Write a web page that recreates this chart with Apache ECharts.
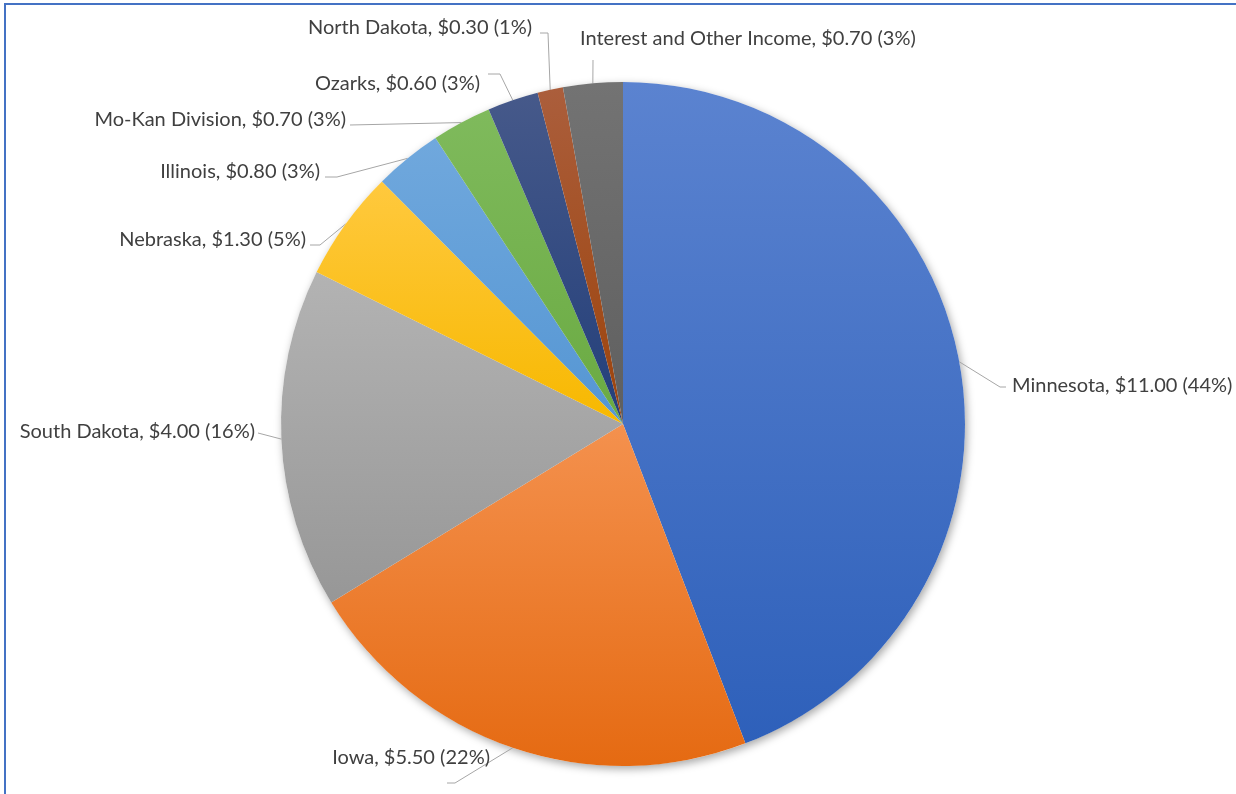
<!DOCTYPE html>
<html>
<head>
<meta charset="utf-8">
<script src="https://cdn.jsdelivr.net/npm/echarts@6/dist/echarts.min.js"></script>
<style>
html,body{margin:0;padding:0;background:#fff;}
#wrap{position:absolute;left:0;top:0;width:1236px;height:794px;}
#frame{position:absolute;left:4px;top:3px;width:1232px;height:791px;border-top:2px solid #4472c4;border-left:2px solid #4472c4;box-sizing:border-box;}
#chart{position:absolute;left:0;top:0;width:1236px;height:794px;}
</style>
</head>
<body>
<div id="wrap"><div id="frame"></div><div id="chart"></div></div>
<script>
const categories = ['Minnesota','Iowa','South Dakota','Nebraska','Illinois','Mo-Kan Division','Ozarks','North Dakota','Interest and Other Income'];
const values = [11.00, 5.50, 4.00, 1.30, 0.80, 0.70, 0.60, 0.30, 0.70];
const percents = [44, 22, 16, 5, 3, 3, 3, 1, 3];

const colorsTop = ['#5b83d0','#f4914e','#b3b3b3','#ffc93e','#70a8dd','#7fba5c','#46598a','#ab5e3c','#737373'];
const colorsBottom = ['#2e60ba','#e56a12','#979797','#f7b800','#5596d3','#6aaa42','#233f7a','#9c430b','#5f5f5f'];

// label layout (text anchor + leader bend points), kept apart from the data
const labelPlacement = [
  {x:1012, y:386, align:'left',  bends:[[1000,387],[1006,387]]},
  {x:490,  y:758, align:'right', bends:[[455,783],[447,783]]},
  {x:255,  y:432, align:'right', bends:[[258,433]]},
  {x:306,  y:240, align:'right', bends:[[320,245],[310,245]]},
  {x:320,  y:172, align:'right', bends:[[337,177],[325,177]]},
  {x:346,  y:120, align:'right', bends:[[350,125]]},
  {x:480,  y:84,  align:'right', bends:[[500,74],[488,74]]},
  {x:532,  y:28,  align:'right', bends:[[548,33],[540,33]]},
  {x:580,  y:39,  align:'left',  bends:[[593,60]]}
];

const chart = echarts.init(document.getElementById('chart'), null, {renderer:'canvas'});
const total = values.reduce((a,b)=>a+b,0);
const data = categories.map((c,i)=>({
  name:c, value:values[i], pct:percents[i],
  itemStyle:{color:new echarts.graphic.LinearGradient(0,0,0,1,[{offset:0,color:colorsTop[i]},{offset:1,color:colorsBottom[i]}])}
}));
chart.setOption({
  animation:false,
  series:[
    {type:'pie', silent:true, center:[623,424], radius:342, z:1,
     label:{show:false}, labelLine:{show:false},
     itemStyle:{color:'#fff', shadowBlur:8, shadowColor:'rgba(0,0,0,0.35)', shadowOffsetX:2, shadowOffsetY:3},
     data:[{value:total, name:''}]},
    {type:'pie', center:[623,424], radius:342, z:2, startAngle:90, clockwise:true,
     avoidLabelOverlap:false,
     itemStyle:{borderWidth:0},
     label:{show:true, position:'outside', color:'#404040', fontFamily:'Lato', fontSize:20,
       formatter:(p)=>`${p.name}, $${p.value.toFixed(2)} (${p.data.pct}%)`},
     labelLine:{show:true, length:20, length2:10, lineStyle:{color:'#a6a6a6', width:1}},
     labelLayout:function(params){
       const lp = labelPlacement[params.dataIndex];
       if(!lp || !params.labelLinePoints) return {};
       const start = params.labelLinePoints[0];
       return {x:lp.x, y:lp.y, align:lp.align, verticalAlign:'middle',
               labelLinePoints:[start].concat(lp.bends)};
     },
     data:data}
  ]
});
</script>
</body>
</html>
